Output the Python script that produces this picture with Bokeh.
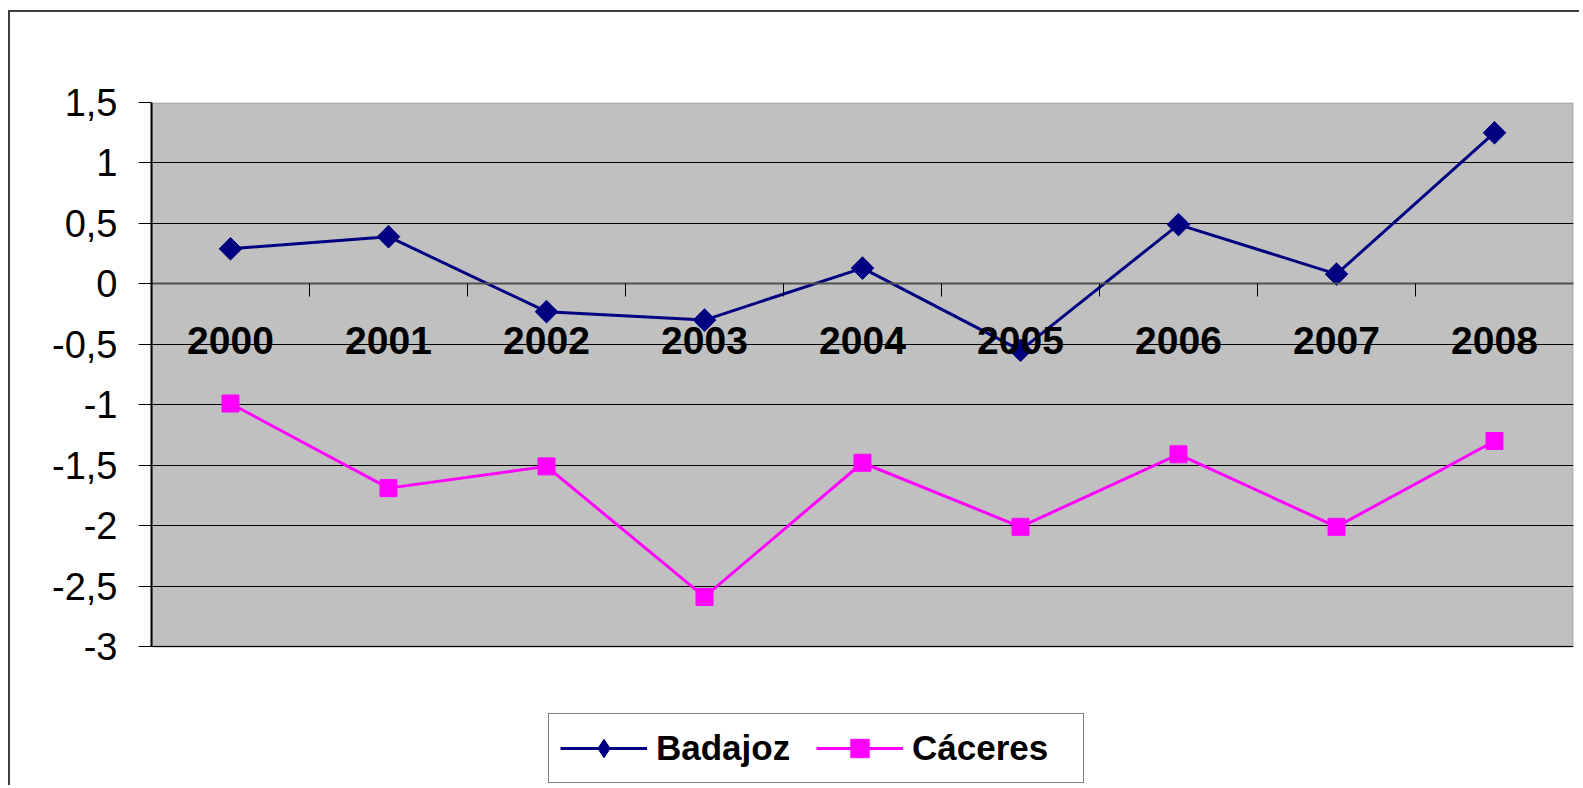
from bokeh.plotting import figure
from bokeh.models import (Range1d, FixedTicker, LinearAxis, CustomJSTickFormatter,
                          Legend, LegendItem, ColumnDataSource, BoxAnnotation)
from bokeh.embed import file_html
from bokeh.resources import INLINE
import math

years = ["2000", "2001", "2002", "2003", "2004", "2005", "2006", "2007", "2008"]
badajoz = [0.29, 0.39, -0.23, -0.30, 0.13, -0.55, 0.49, 0.08, 1.25]
caceres = [-0.99, -1.69, -1.51, -2.59, -1.48, -2.01, -1.41, -2.01, -1.30]
y_ticks = [-3, -2.5, -2, -1.5, -1, -0.5, 0, 0.5, 1, 1.5]

xs = list(range(1, len(years) + 1))
src = ColumnDataSource(dict(x=xs, bad=badajoz, cac=caceres))

FONT = "Liberation Sans"

# layout (pixels)
W, H = 1571, 775
BORDER_L, BORDER_T = 141, 90
PLOT_H = 544                       # height of the grey plot area
frame_h = H - BORDER_T             # frame runs to the bottom so the legend fits in it
y_top, y_min = y_ticks[-1], y_ticks[0]
y_bottom = y_top - frame_h * (y_top - y_min) / PLOT_H

# canvas origin on the page is (10, 12) because of the margin/border styles below
p = figure(width=W, height=H, output_backend="svg", toolbar_location=None,
           x_range=Range1d(0.5, len(years) + 0.5), y_range=Range1d(y_bottom, y_top),
           x_axis_location=None, y_axis_location=None,
           min_border_left=BORDER_L, min_border_top=BORDER_T, min_border_right=8,
           min_border_bottom=0)
p.styles = {"margin-left": "8px", "margin-top": "10px",
            "border-left": "2px solid #404040", "border-top": "2px solid #404040"}
p.background_fill_color = "white"
p.border_fill_color = "white"
p.outline_line_color = None

# grey plot area with its border
area = BoxAnnotation(bottom=y_min, top=y_top, fill_color="#C0C0C0", fill_alpha=1,
                     line_color="#808080", line_width=3, level="image")
p.add_layout(area)

# y axis
yax = LinearAxis(ticker=FixedTicker(ticks=y_ticks, minor_ticks=[]), bounds=(y_min, y_top))
yax.formatter = CustomJSTickFormatter(code="return tick.toString().replace('.', ',');")
yax.axis_line_color = "black"
yax.axis_line_width = 2
yax.major_tick_out = 13
yax.major_tick_in = 0
yax.major_tick_line_color = "black"
yax.minor_tick_line_color = None
yax.major_label_standoff = 21
yax.major_label_text_font = FONT
yax.major_label_text_font_size = "38px"
yax.major_label_text_color = "black"
p.add_layout(yax, "left")

# category axis line with tick marks between categories, on the zero line
xline = LinearAxis(ticker=FixedTicker(ticks=[], minor_ticks=[i + 0.5 for i in xs[:-1]]),
                   fixed_location=0)
xline.axis_line_color = "#505050"
xline.axis_line_width = 2
xline.major_tick_line_color = None
xline.minor_tick_in = 13
xline.minor_tick_out = 0
xline.minor_tick_line_color = "black"
xline.minor_tick_line_width = 1
p.add_layout(xline, "above")

# category labels, just under the zero line
X_LABEL_LEVEL = -0.62
xlab = LinearAxis(ticker=FixedTicker(ticks=xs, minor_ticks=[]), fixed_location=X_LABEL_LEVEL)
xlab.major_label_overrides = {x: y for x, y in zip(xs, years)}
xlab.axis_line_color = None
xlab.major_tick_line_color = None
xlab.minor_tick_line_color = None
xlab.major_tick_out = 0
xlab.major_tick_in = 0
xlab.major_label_standoff = 5
xlab.major_label_text_font = FONT
xlab.major_label_text_font_style = "bold"
xlab.major_label_text_font_size = "39px"
xlab.major_label_text_color = "black"
p.add_layout(xlab, "above")

p.xgrid.visible = False
p.ygrid.ticker = FixedTicker(ticks=y_ticks)
p.ygrid.grid_line_color = "black"
p.ygrid.grid_line_width = 1

NAVY, MAGENTA = "#000080", "#FF00FF"

# series
l1 = p.line("x", "bad", source=src, line_color=NAVY, line_width=3)
# small diamond (used for the legend key), fully covered by the rotated square below
d1 = p.scatter("x", "bad", source=src, marker="diamond", size=14,
               fill_color=NAVY, line_color=NAVY)
m1 = p.scatter("x", "bad", source=src, marker="square", size=16, angle=math.pi / 4,
               fill_color=NAVY, line_color=NAVY)
l2 = p.line("x", "cac", source=src, line_color=MAGENTA, line_width=3)
m2 = p.scatter("x", "cac", source=src, marker="square", size=17,
               fill_color=MAGENTA, line_color=MAGENTA)

legend = Legend(items=[LegendItem(label="Badajoz", renderers=[l1, d1]),
                       LegendItem(label="Cáceres", renderers=[l2, m2])],
                orientation="horizontal", location=(397, 4),
                padding=11, margin=0, spacing=0,
                glyph_width=87, glyph_height=46, label_width=160, label_standoff=9,
                label_text_font=FONT, label_text_font_style="bold",
                label_text_font_size="35px", label_text_color="black",
                border_line_color="black", border_line_width=1.3,
                background_fill_color="white", background_fill_alpha=1)
p.add_layout(legend, "center")

open("out.html", "w").write(file_html(p, INLINE))
